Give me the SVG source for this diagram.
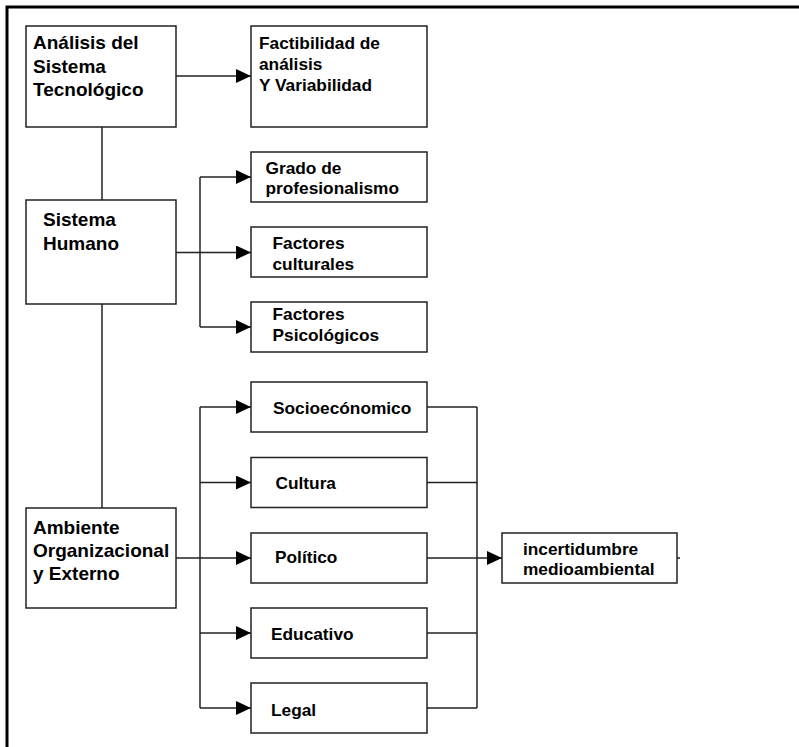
<svg xmlns="http://www.w3.org/2000/svg" width="799" height="747" viewBox="0 0 799 747">
<defs>
<style>
.box{fill:#fff;stroke:#222;stroke-width:1.5}
.ln{fill:none;stroke:#222;stroke-width:1.5}
.arr{marker-end:url(#ah)}
.t{font-family:"Liberation Sans",Arial,sans-serif;font-weight:bold;fill:#000}
.big{font-size:19px}
.sm{font-size:17.3px}
</style>
<marker id="ah" markerUnits="userSpaceOnUse" markerWidth="16" markerHeight="16" refX="15" refY="7" orient="auto">
<path d="M0,0 L15,7 L0,14 Z" fill="#000"/>
</marker>
</defs>
<rect width="799" height="747" fill="#fff"/>
<path d="M7,747 V7 H799" fill="none" stroke="#000" stroke-width="3"/>
<g id="connectors">
<path class="ln arr" d="M176,76 H251"/>
<path class="ln" d="M102,127 V200"/>
<path class="ln" d="M102,304 V508"/>
<path class="ln arr" d="M176,252.5 H251"/>
<path class="ln" d="M200,177 V327"/>
<path class="ln arr" d="M200,177 H251"/>
<path class="ln arr" d="M200,327 H251"/>
<path class="ln arr" d="M176,558 H251"/>
<path class="ln" d="M200,407 V708"/>
<path class="ln arr" d="M200,407 H251"/>
<path class="ln arr" d="M200,482.5 H251"/>
<path class="ln arr" d="M200,633 H251"/>
<path class="ln arr" d="M200,708 H251"/>
<path class="ln" d="M477,407 V708"/>
<path class="ln" d="M427,407 H477"/>
<path class="ln" d="M427,482.5 H477"/>
<path class="ln" d="M427,633 H477"/>
<path class="ln" d="M427,708 H477"/>
<path class="ln arr" d="M427,558 H502"/>
<path class="ln" d="M677,558 H680"/>
</g>
<g id="n-tecnologico">
<rect class="box" x="26" y="26" width="150" height="101"/>
<text class="t big" x="33" y="49">Análisis del</text>
<text class="t big" x="33" y="72.5">Sistema</text>
<text class="t big" x="33" y="96">Tecnológico</text>
</g>
<g id="n-factibilidad">
<rect class="box" x="251" y="26" width="176" height="101"/>
<text class="t sm" x="259" y="49">Factibilidad de</text>
<text class="t sm" x="259" y="69.5">análisis</text>
<text class="t sm" x="259" y="90.5">Y Variabilidad</text>
</g>
<g id="n-humano">
<rect class="box" x="26" y="200" width="150" height="104"/>
<text class="t big" x="43" y="226">Sistema</text>
<text class="t big" x="43" y="250">Humano</text>
</g>
<g id="n-grado">
<rect class="box" x="251" y="152" width="176" height="50"/>
<text class="t sm" x="265.5" y="173.5">Grado de</text>
<text class="t sm" x="265.5" y="193.5">profesionalismo</text>
</g>
<g id="n-culturales">
<rect class="box" x="251" y="227" width="176" height="50"/>
<text class="t sm" x="272.5" y="249">Factores</text>
<text class="t sm" x="272.5" y="269.5">culturales</text>
</g>
<g id="n-psicologicos">
<rect class="box" x="251" y="302" width="176" height="50"/>
<text class="t sm" x="272.5" y="320">Factores</text>
<text class="t sm" x="272.5" y="341">Psicológicos</text>
</g>
<g id="n-ambiente">
<rect class="box" x="26" y="508" width="150" height="100"/>
<text class="t big" x="33" y="533.5">Ambiente</text>
<text class="t big" x="33" y="556.5">Organizacional</text>
<text class="t big" x="33" y="579.5">y Externo</text>
</g>
<g id="n-socio">
<rect class="box" x="251" y="382" width="176" height="50"/>
<text class="t sm" x="273" y="414">Socioecónomico</text>
</g>
<g id="n-cultura">
<rect class="box" x="251" y="457.5" width="176" height="50"/>
<text class="t sm" x="275.5" y="488.5">Cultura</text>
</g>
<g id="n-politico">
<rect class="box" x="251" y="533" width="176" height="50"/>
<text class="t sm" x="275" y="563">Político</text>
</g>
<g id="n-educativo">
<rect class="box" x="251" y="608" width="176" height="50"/>
<text class="t sm" x="271" y="640">Educativo</text>
</g>
<g id="n-legal">
<rect class="box" x="251" y="683" width="176" height="50"/>
<text class="t sm" x="271" y="716">Legal</text>
</g>
<g id="n-incertidumbre">
<rect class="box" x="502" y="533" width="175" height="50"/>
<text class="t sm" x="523" y="554.5">incertidumbre</text>
<text class="t sm" x="523" y="575">medioambiental</text>
</g>
</svg>
